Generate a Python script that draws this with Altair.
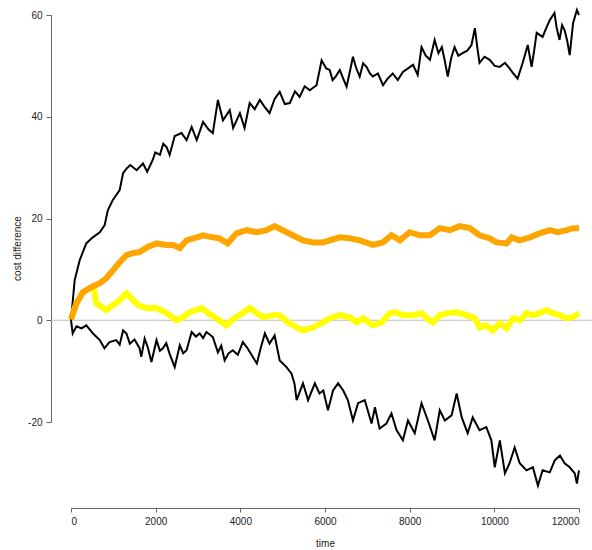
import altair as alt
import pandas as pd

time_ticks = [0, 2000, 4000, 6000, 8000, 10000, 12000]
cost_ticks = [-20, 0, 20, 40, 60]

upper_time = [0, 87, 205, 360, 515, 680, 795, 870, 985, 1150, 1230, 1320, 1400, 1550, 1700, 1800,
              1930, 1990, 2100, 2180, 2260, 2330, 2450, 2610, 2730, 2850, 2970, 3120, 3250, 3350,
              3470, 3590, 3750, 3830, 3990, 4100, 4220, 4340, 4460, 4570, 4690, 4810, 4930, 5050,
              5170, 5290, 5400, 5520, 5640, 5800, 5920, 6030, 6110, 6180, 6260, 6350, 6430, 6510,
              6590, 6660, 6740, 6820, 6900, 6980, 7060, 7130, 7250, 7370, 7480, 7600, 7720, 7840,
              7960, 8080, 8190, 8280, 8380, 8480, 8590, 8680, 8760, 8830, 8900, 8980, 9060, 9150,
              9250, 9360, 9460, 9540, 9600, 9650, 9770, 9890, 10010, 10130, 10250, 10360, 10450,
              10550, 10670, 10790, 10880, 10940, 11000, 11140, 11230, 11310, 11420, 11470, 11540,
              11600, 11660, 11720, 11780, 11860, 11950, 12000]
upper_cost = [0, 7.9, 11.8, 15.1, 16.3, 17.3, 18.7, 21.6, 23.6, 25.6, 28.9, 29.9, 30.5, 29.5, 30.8, 29.2,
              31.5, 33.0, 32.5, 34.7, 34.0, 32.5, 36.2, 36.8, 35.4, 38.0, 35.4, 39.0, 37.5, 36.8,
              43.3, 39.3, 41.3, 37.8, 40.7, 37.8, 42.7, 41.5, 43.3, 42.0, 40.7, 43.5, 44.9, 42.5,
              42.7, 45.0, 43.9, 46.0, 45.2, 46.2, 51.1, 49.5, 49.2, 47.2, 48.0, 49.2, 47.5, 45.9,
              49.0, 51.8, 49.5, 47.9, 50.5, 49.8, 48.5, 47.9, 48.5, 46.2, 47.5, 48.5, 47.2, 48.8,
              49.5, 50.2, 48.2, 53.7, 52.0, 51.2, 55.1, 52.5, 53.7, 51.0, 47.9, 51.5, 53.7, 52.0,
              52.5, 53.0, 54.1, 57.4, 53.5, 50.6, 51.8, 51.2, 50.0, 49.8, 50.6, 49.5, 48.5,
              47.5, 50.6, 54.1, 49.8, 53.0, 56.5, 55.7, 57.5, 59.0, 60.4, 57.6, 55.1,
              58.0, 57.0, 55.0, 52.1, 58.4, 61.0, 60.0]

lower_time = [0, 40, 130, 250, 360, 440, 520, 680, 790, 910, 1070, 1150, 1230, 1310, 1390, 1500,
              1620, 1660, 1740, 1820, 1900, 2020, 2100, 2170, 2250, 2330, 2450, 2570, 2650, 2730,
              2850, 2950, 3040, 3120, 3200, 3350, 3470, 3550, 3630, 3720, 3820, 3940, 4060, 4170,
              4270, 4390, 4480, 4580, 4690, 4810, 4930, 5090, 5210, 5280, 5330, 5480, 5600, 5760,
              5870, 5960, 6070, 6190, 6310, 6430, 6540, 6660, 6780, 6940, 7100, 7180, 7290, 7450,
              7570, 7690, 7840, 7960, 8120, 8280, 8430, 8590, 8710, 8830, 8990, 9110, 9230, 9370,
              9490, 9650, 9810, 9930, 10010, 10130, 10250, 10360, 10480, 10600, 10760, 10910,
              11030, 11140, 11310, 11430, 11550, 11660, 11780, 11900, 11950, 12000]
lower_cost = [0, -2.6, -1.2, -1.6, -1.0, -1.8, -2.6, -3.9, -5.5, -4.3, -3.9, -4.8, -2.0, -2.6, -4.6, -3.8,
              -5.5, -7.2, -3.6, -5.5, -8.2, -3.9, -6.0, -5.5, -4.5, -6.6, -9.2, -4.9, -6.5, -5.9,
              -2.3, -3.2, -2.6, -3.5, -2.3, -3.3, -6.3, -5.0, -7.9, -6.5, -5.9, -6.8, -4.3, -5.5,
              -6.9, -8.5, -5.5, -2.6, -4.6, -3.0, -7.9, -9.2, -10.5, -12.5, -15.7, -12.4, -15.7, -12.4,
              -14.4, -13.8, -17.7, -13.8, -12.4, -13.8, -15.7, -19.7, -16.3, -15.7, -20.3, -17.1, -21.3, -20.3,
              -18.3, -21.6, -23.6, -19.7, -22.2, -16.3, -19.7, -23.6, -17.7, -19.7, -18.7, -14.4, -19.1, -22.2,
              -19.1, -21.6, -21.0, -23.6, -28.9, -23.6, -30.1, -28.1, -25.0, -28.1, -29.5, -28.9,
              -32.5, -29.5, -29.9, -27.5, -26.6, -28.1, -28.9, -30.1, -32.1, -29.5]

orange_time = [0, 127, 280, 485, 680, 840, 990, 1150, 1310, 1460, 1620, 1810, 2020, 2260, 2410, 2570,
               2730, 2970, 3120, 3350, 3510, 3700, 3910, 4150, 4390, 4620, 4810, 5000, 5240, 5480,
               5720, 5950, 6110, 6350, 6580, 6820, 7130, 7370, 7570, 7770, 8000, 8240, 8480, 8710,
               8950, 9180, 9420, 9650, 9890, 10050, 10290, 10410, 10600, 10840, 11070, 11310, 11500,
               11710, 11860, 12000]
orange_cost = [0.2, 3.3, 5.5, 6.5, 7.3, 8.3, 9.8, 11.4, 12.8, 13.2, 13.4, 14.4, 15.1, 14.8, 14.8, 14.2,
               15.7, 16.3, 16.7, 16.3, 16.1, 15.1, 17.1, 17.7, 17.3, 17.7, 18.5, 17.7, 16.7, 15.7,
               15.3, 15.3, 15.7, 16.3, 16.1, 15.7, 14.8, 15.3, 16.7, 15.7, 17.3, 16.7, 16.7, 18.1,
               17.7, 18.5, 18.1, 16.7, 16.1, 15.3, 15.1, 16.3, 15.7, 16.3, 17.1, 17.7, 17.3,
               17.7, 18.1, 18.1]

yellow_time = [0, 127, 280, 485, 540, 600, 720, 840, 990, 1150, 1310, 1430, 1580, 1780, 2020, 2260,
               2490, 2650, 2810, 3090, 3240, 3430, 3670, 3860, 4060, 4220, 4390, 4540, 4770, 4930,
               5120, 5330, 5480, 5720, 5950, 6110, 6350, 6580, 6750, 6900, 7130, 7340, 7530, 7650,
               7840, 8080, 8280, 8400, 8550, 8710, 8900, 9110, 9340, 9540, 9650, 9810, 9960, 10130,
               10290, 10440, 10600, 10760, 10910, 11070, 11230, 11380, 11540, 11710, 11860, 12000]
yellow_cost = [0.2, 3.3, 5.5, 6.5, 6.0, 3.3, 2.6, 2.0, 3.0, 3.9, 5.3, 4.3, 3.0, 2.4, 2.4, 1.4,
               0.0, 0.6, 1.6, 2.4, 1.4, 0.4, -1.0, 0.4, 1.4, 2.4, 1.4, 0.6, 1.0, 1.0,
               -0.4, -1.4, -2.0, -1.4, -0.4, 0.4, 1.0, 0.6, -0.4, 0.4, -1.0, -0.4, 1.4, 1.6,
               1.0, 1.0, 1.4, 0.4, -0.4, 1.0, 1.4, 1.6, 1.0, 0.4, -1.4, -1.0, -2.0, -0.6,
               -1.6, 0.4, 0.0, 1.4, 1.0, 1.4, 2.0, 1.4, 1.0, 0.4, 0.6, 1.4]

FONT = "Liberation Sans"

x_scale = alt.Scale(domain=[0, 12000], nice=False, zero=False)
y_scale = alt.Scale(domain=[-20, 60], nice=False, zero=False)

x_axis = alt.Axis(values=time_ticks, title="time", offset=86, grid=False,
                  labelExpr="'' + datum.value", tickSize=4, labelPadding=4,
                  titleY=35, titleBaseline="middle")
y_axis = alt.Axis(values=cost_ticks, title="cost difference", offset=20, grid=False,
                  labelExpr="'' + datum.value", tickSize=5, labelPadding=4,
                  titleX=-34, titleY=233, titleBaseline="middle", titleAngle=270)


def df(t, v):
    return pd.DataFrame({"time": t, "cost": v})


def line(t, v, color, width):
    return alt.Chart(df(t, v)).mark_line(color=color, strokeWidth=width, interpolate="linear").encode(
        x=alt.X("time:Q", scale=x_scale, axis=x_axis),
        y=alt.Y("cost:Q", scale=y_scale, axis=y_axis),
        order="time:Q",
    )


zero_rule = alt.Chart(pd.DataFrame({"cost": [0]})).mark_rule(color="#bdbdbd", strokeWidth=1).encode(
    y=alt.Y("cost:Q", scale=y_scale, axis=y_axis),
    x=alt.value(-20),
    x2=alt.value(530),
)

chart = alt.layer(
    zero_rule,
    line(upper_time, upper_cost, "#000000", 2),
    line(lower_time, lower_cost, "#000000", 2),
    line(yellow_time, yellow_cost, "#FFFF00", 6),
    line(orange_time, orange_cost, "#FFA500", 6),
).properties(
    width=508,
    height=407,
    autosize=alt.AutoSizeParams(type="none"),
    padding={"left": 71, "top": 15, "right": 13, "bottom": 128},
    background="white",
).configure_view(
    stroke=None
).configure_axis(
    labelFont=FONT, titleFont=FONT, labelFontSize=10, titleFontSize=10,
    labelColor="#222222", titleColor="#222222", titleFontWeight="normal",
    domainColor="#666666", tickColor="#666666", domainWidth=1, tickWidth=1,
)

chart.save("out.html", embed_options={"renderer": "svg", "actions": False})
